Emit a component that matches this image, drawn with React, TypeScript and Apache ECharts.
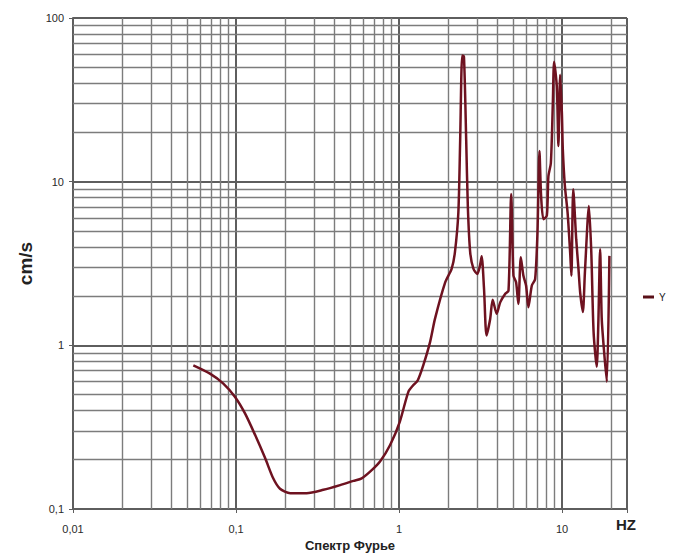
import React, { useEffect, useRef } from "react";
import * as echarts from "echarts";

// Fourier spectrum, frequency (Hz) vs amplitude (cm/s)
const freqHz = [
  0.0547, 0.0692, 0.0836, 0.0986, 0.1135, 0.131, 0.151, 0.169, 0.186, 0.215,
  0.271, 0.343, 0.435, 0.525, 0.59, 0.664, 0.764, 0.881, 1.01, 1.14,
  1.22, 1.3, 1.41, 1.55, 1.66, 1.92, 2.1, 2.2, 2.31, 2.37,
  2.44, 2.5, 2.58, 2.64, 2.73, 2.86, 3.02, 3.14, 3.21, 3.32,
  3.44, 3.62, 3.75, 3.97, 4.17, 4.47, 4.69, 4.87, 5.03, 5.22,
  5.39, 5.58, 5.79, 6.01, 6.21, 6.52, 6.83, 7.06, 7.26, 7.43,
  7.68, 8.06, 8.24, 8.53, 8.77, 8.93, 9.28, 9.49, 9.73, 9.97,
  10.1, 10.4, 10.8, 11.2, 11.4, 11.7, 12.2, 12.6, 12.9, 13.4,
  13.8, 14.6, 15.1, 15.6, 16.3, 16.7, 17.1, 17.5, 18.1, 18.8,
  19.5,
];
const ampCmS = [
  0.755, 0.672, 0.584, 0.484, 0.384, 0.283, 0.204, 0.154, 0.133, 0.125,
  0.125, 0.131, 0.14, 0.1486, 0.154, 0.169, 0.195, 0.246, 0.341, 0.52,
  0.57, 0.61, 0.76, 1.05, 1.45, 2.43, 2.93, 3.7, 6.5, 18,
  59, 58, 18, 7.1, 3.7, 2.93, 2.73, 3.1, 3.5, 2.2,
  1.15, 1.45, 1.9, 1.56, 1.83, 2.06, 2.16, 8.4, 2.66, 2.43,
  1.79, 3.45, 2.66, 2.32, 1.71, 2.32, 2.54, 4.9, 15.4, 8.2,
  5.9, 6.2, 10.8, 13, 30, 54, 38, 16.5, 45, 26,
  15.7, 9.4, 6.5, 3.7, 2.66, 9.0, 4.45, 2.93, 2.11, 1.6,
  2.8, 7.1, 3.7, 1.2, 0.74, 1.45, 3.87, 1.45, 0.91, 0.6,
  3.52,
];

const xTickValues = [0.01, 0.1, 1, 10];
const yTickValues = [0.1, 1, 10, 100];
const xMin = 0.01;
const xMax = 25;
const yMin = 0.1;
const yMax = 100;
const seriesName = "Y";
const yAxisTitle = "cm/s";
const xAxisTitle = "Спектр Фурье";
const xUnit = "HZ";

const fmt = (ticks: number[]) => (v: number) => {
  const t = ticks.find((m) => Math.abs(m - v) / m < 1e-6);
  return t === undefined ? "" : String(t).replace(".", ",");
};

export default function App() {
  const ref = useRef<HTMLDivElement>(null);
  useEffect(() => {
    const chart = echarts.init(ref.current!, null, { renderer: "svg" });
    const minorX: number[] = [];
    xTickValues.forEach((d) => {
      for (let k = 2; k <= 9; k++) {
        const v = +(d * k).toPrecision(4);
        if (v < xMax) minorX.push(v);
      }
    });
    const minorY: number[] = [];
    yTickValues.forEach((d) => {
      for (let k = 2; k <= 9; k++) {
        const v = +(d * k).toPrecision(4);
        if (v < yMax) minorY.push(v);
      }
    });
    const labelFont = {
      fontFamily: "Liberation Sans, Arial, sans-serif",
      fontSize: 11,
      color: "#2a2a2a",
    };
    chart.setOption({
      animation: false,
      backgroundColor: "#fff",
      grid: { left: 73, right: 46, top: 18, bottom: 46, containLabel: false },
      legend: {
        data: [seriesName],
        left: 643,
        top: 292,
        padding: 0,
        icon: "rect",
        itemWidth: 11,
        itemHeight: 3,
        textStyle: { fontSize: 10, color: "#222", fontFamily: "Liberation Sans, Arial, sans-serif" },
      },
      graphic: [
        {
          type: "text",
          left: 616,
          top: 517,
          style: {
            text: xUnit,
            font: "bold 15px 'Liberation Sans', Arial, sans-serif",
            fill: "#222",
          },
        },
      ],
      xAxis: {
        type: "log",
        logBase: 10,
        min: xMin,
        max: xMax,
        name: xAxisTitle,
        nameLocation: "middle",
        nameGap: 30,
        nameTextStyle: {
          fontFamily: "Liberation Sans, Arial, sans-serif",
          fontSize: 13,
          fontWeight: "bold",
          color: "#222",
        },
        axisLine: { show: true, lineStyle: { color: "#5e5e5e", width: 2 } },
        axisTick: { show: true, length: 4, lineStyle: { color: "#5e5e5e" } },
        axisLabel: { ...labelFont, margin: 14, formatter: fmt(xTickValues) },
        splitLine: { show: true, lineStyle: { color: "#5e5e5e", width: 2 } },
      },
      yAxis: {
        type: "log",
        logBase: 10,
        min: yMin,
        max: yMax,
        name: yAxisTitle,
        nameLocation: "middle",
        nameGap: 34,
        nameTextStyle: {
          fontFamily: "Liberation Sans, Arial, sans-serif",
          fontSize: 19,
          fontWeight: "bold",
          color: "#222",
        },
        axisLine: { show: true, lineStyle: { color: "#5e5e5e", width: 2 } },
        axisTick: { show: true, length: 4, lineStyle: { color: "#5e5e5e" } },
        axisLabel: { ...labelFont, margin: 9, formatter: fmt(yTickValues) },
        splitLine: { show: true, lineStyle: { color: "#5e5e5e", width: 2 } },
      },
      series: [
        {
          name: "_grid",
          type: "line",
          data: [],
          z: 1,
          silent: true,
          markLine: {
            silent: true,
            symbol: ["none", "none"],
            label: { show: false },
            emphasis: { disabled: true },
            lineStyle: { color: "#7c7c7c", width: 1.4, type: "solid" },
            data: [
              ...minorX.map((v) => ({ xAxis: v })),
              ...minorY.map((v) => ({ yAxis: v })),
            ],
          },
        },
        {
          name: seriesName,
          type: "line",
          z: 5,
          showSymbol: false,
          symbol: "none",
          smooth: 0.25,
          color: "#5a1018",
          lineStyle: { color: "#6e1220", width: 2.5 },
          data: freqHz.map((f, i) => [f, ampCmS[i]]),
        },
      ],
    });
    return () => chart.dispose();
  }, []);
  return (
    <div
      ref={ref}
      style={{ position: "fixed", left: 0, top: 0, width: 673, height: 557 }}
    />
  );
}
